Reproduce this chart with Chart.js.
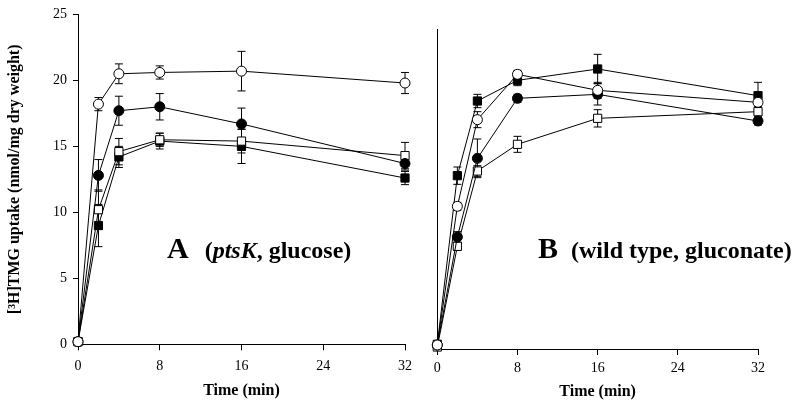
<!DOCTYPE html>
<html>
<head>
<meta charset="utf-8">
<script src="https://cdn.jsdelivr.net/npm/chart.js@4.4.1/dist/chart.umd.min.js"></script>
<style>
  body { margin: 0; background: #fff; }
  #wrap { position: relative; width: 800px; height: 406px; overflow: hidden;
          font-family: "Liberation Serif", "Times New Roman", serif; }
  .panel { position: absolute; top: 0; height: 406px; }
  #boxA { left: 0; width: 420px; }
  #boxB { left: 420px; width: 380px; }
  .tag { position: absolute; top: 233px; font-weight: bold; font-size: 30px;
         line-height: 1; white-space: nowrap; color: #000; }
  .tag span { font-size: 24px; }
</style>
</head>
<body>
<div id="wrap">
  <div class="panel" id="boxA"><canvas id="chartA"></canvas></div>
  <div class="panel" id="boxB"><canvas id="chartB"></canvas></div>
  <div class="tag" style="left:167px">A<span style="margin-left:16px">(<i>ptsK</i>, glucose)</span></div>
  <div class="tag" style="left:538px">B<span style="margin-left:13px">(wild type, gluconate)</span></div>
</div>
<script>
// sampling times (min)
const times = [0, 2, 4, 8, 16, 32];

// panel A (ptsK, glucose)
const aOpenCircle      = [0.2, 18.2, 20.5, 20.6, 20.7, 19.8];
const aOpenCircleErr   = [0, 0.5, 0.75, 0.5, 1.5, 0.8];
const aFilledCircle    = [0.2, 12.8, 17.7, 18.0, 16.7, 13.7];
const aFilledCircleErr = [0, 1.2, 1.1, 1.0, 1.2, 0.5];
const aOpenSquare      = [0.2, 10.2, 14.6, 15.5, 15.4, 14.3];
const aOpenSquareErr   = [0, 1.5, 1.0, 0.5, 0.9, 1.0];
const aFilledSquare    = [0.2, 9.0, 14.2, 15.4, 15.0, 12.6];
const aFilledSquareErr = [0, 1.6, 0.8, 0.6, 1.3, 0.5];

// panel B (wild type, gluconate)
const bOpenCircle      = [0.3, 10.7, 17.2, 20.6, 19.4, 18.5];
const bOpenCircleErr   = [0, 0.3, 0.6, 0.3, 0.6, 0.5];
const bFilledCircle    = [0.3, 8.4, 14.3, 18.8, 19.1, 17.1];
const bFilledCircleErr = [0, 0.4, 1.45, 0.3, 0.8, 0.3];
const bOpenSquare      = [0.15, 7.7, 13.35, 15.35, 17.3, 17.8];
const bOpenSquareErr   = [0, 0.3, 0.4, 0.6, 0.65, 0.4];
const bFilledSquare    = [0.35, 13.0, 18.6, 20.15, 21.0, 19.0];
const bFilledSquareErr = [0, 0.65, 0.5, 0.4, 1.1, 1.0];

Chart.defaults.font.family = '"Liberation Serif", "Times New Roman", serif';
Chart.defaults.color = "#000";

// vertical error bars with caps, drawn under the markers
const errorBars = {
  id: "errorBars",
  beforeDatasetsDraw(chart) {
    const ctx = chart.ctx, y = chart.scales.y;
    ctx.save();
    ctx.strokeStyle = "#000";
    ctx.lineWidth = 1;
    chart.data.datasets.forEach((ds, i) => {
      chart.getDatasetMeta(i).data.forEach((pt, j) => {
        const e = ds.errors[j];
        if (!e) return;
        const v = ds.data[j].y;
        const top = y.getPixelForValue(v + e), bot = y.getPixelForValue(v - e);
        ctx.beginPath();
        ctx.moveTo(pt.x, top); ctx.lineTo(pt.x, bot);
        ctx.moveTo(pt.x - 4, top); ctx.lineTo(pt.x + 4, top);
        ctx.moveTo(pt.x - 4, bot); ctx.lineTo(pt.x + 4, bot);
        ctx.stroke();
      });
    });
    ctx.restore();
  },
};

function series(vals, errs, style, filled) {
  return {
    data: vals.map((v, i) => ({ x: times[i], y: v })),
    errors: errs,
    borderColor: "#000", borderWidth: 1,
    pointStyle: style,
    pointRadius: style === "rect" ? 5.8 : 5,
    pointBackgroundColor: filled ? "#000" : "#fff",
    pointBorderColor: "#000", pointBorderWidth: 1,
    tension: 0, clip: false,
  };
}

function xAxis(tickPad, titlePad, h) {
  return {
    type: "linear", min: 0, max: 32,
    ticks: { stepSize: 8, padding: tickPad, font: { size: 14 } },
    grid: { drawOnChartArea: false, tickLength: 6, color: "#000" },
    border: { color: "#000" },
    title: { display: true, text: "Time (min)", font: { size: 16, weight: "bold" }, padding: { top: 0, bottom: titlePad } },
    afterFit: s => { s.height = h; },
  };
}

new Chart(document.getElementById("chartA"), {
  type: "line",
  data: {
    datasets: [
      series(aOpenCircle, aOpenCircleErr, "circle", false),
      series(aFilledCircle, aFilledCircleErr, "circle", true),
      series(aOpenSquare, aOpenSquareErr, "rect", false),
      series(aFilledSquare, aFilledSquareErr, "rect", true),
    ],
  },
  options: {
    responsive: true, maintainAspectRatio: false, animation: false,
    layout: { padding: { top: 11, right: 7, left: 0, bottom: 0 } },
    plugins: { legend: { display: false }, tooltip: { enabled: false } },
    scales: {
      x: xAxis(8, 6, 61.7),
      y: {
        min: 0, max: 25,
        ticks: { stepSize: 5, padding: 6, font: { size: 14 } },
        grid: { drawOnChartArea: false, tickLength: 5, color: "#000" },
        border: { color: "#000" },
        title: { display: true, text: "[³H]TMG uptake (nmol/mg dry weight)", font: { size: 16, weight: "bold" }, padding: { top: 5, bottom: 0 } },
        afterFit: s => { s.width = 78; },
      },
    },
  },
  plugins: [errorBars],
});

new Chart(document.getElementById("chartB"), {
  type: "line",
  data: {
    datasets: [
      series(bOpenCircle, bOpenCircleErr, "circle", false),
      series(bFilledCircle, bFilledCircleErr, "circle", true),
      series(bOpenSquare, bOpenSquareErr, "rect", false),
      series(bFilledSquare, bFilledSquareErr, "rect", true),
    ],
  },
  options: {
    responsive: true, maintainAspectRatio: false, animation: false,
    layout: { padding: { top: 29, right: 42, left: 0, bottom: 0 } },
    plugins: { legend: { display: false }, tooltip: { enabled: false } },
    scales: {
      x: xAxis(5, 5, 57),
      y: {
        min: 0, max: 24,
        ticks: { display: false },
        grid: { drawOnChartArea: false, drawTicks: false },
        border: { color: "#000" },
        afterFit: s => { s.width = 17.3; },
      },
    },
  },
  plugins: [errorBars],
});
</script>
</body>
</html>
